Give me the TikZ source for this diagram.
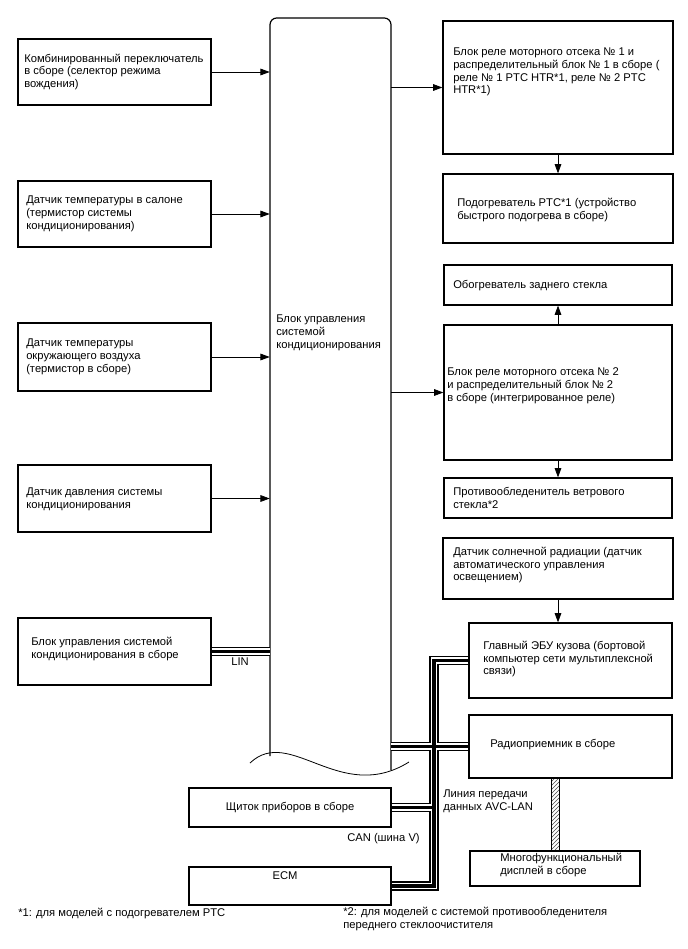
\documentclass[tikz,border=0pt]{standalone}
\usepackage{fontspec}
\setmainfont{Liberation Sans}
\usetikzlibrary{arrows.meta,fit,patterns,calc}
\begin{document}
\begin{tikzpicture}[x=0.75pt,y=-0.75pt,
  box/.style={draw, line width=0.9pt, inner sep=0pt},
  txt/.style={inner sep=0pt, align=left, font=\fontsize{8.4}{9.6}\selectfont, anchor=west},
  arr/.style={line width=0.6pt, -{Triangle[length=7pt,width=5pt]}},
  cable/.style={line width=2.6pt, preaction={draw, line width=6.8pt, black}, preaction={draw, line width=4.9pt, white}},
]
\useasboundingbox (0,0) rectangle (688,949);

% central block
\node[inner sep=0pt, fit={(270,18) (391,770)}] (cb) {};
\draw[line width=0.9pt, rounded corners=5pt] (270,756) |- (391,18) -- (391,770);
\draw[line width=0.6pt] (250,763) .. controls (290,725) and (340,805) .. (409,762);
\node[txt] (tc) at (276,333) {Блок управления\\системой\\кондиционирования};

% left boxes
\node[box, fit={(18,39) (211,105)}] (b1) {};
\node[txt] (t1) at (24,72) {Комбинированный переключатель\\в сборе (селектор режима\\вождения)};
\node[box, fit={(18,181) (211,247)}] (b2) {};
\node[txt] (t2) at (26,214) {Датчик температуры в салоне\\(термистор системы\\кондиционирования)};
\node[box, fit={(18,323) (211,391)}] (b3) {};
\node[txt] (t3) at (26,357) {Датчик температуры\\окружающего воздуха\\(термистор в сборе)};
\node[box, fit={(18,465) (211,532)}] (b4) {};
\node[txt] (t4) at (26,499) {Датчик давления системы\\кондиционирования};
\node[box, fit={(18,618) (211,685)}] (b5) {};
\node[txt] (t5) at (31,649) {Блок управления системой\\кондиционирования в сборе};

% right boxes
\node[box, fit={(443,21) (673,154)}] (r1) {};
\node[txt] (tr1) at (453,72) {Блок реле моторного отсека № 1 и\\распределительный блок № 1 в сборе (\\реле № 1 PTC HTR*1, реле № 2 PTC\\HTR*1)};
\node[box, fit={(443,174) (673,243)}] (r2) {};
\node[txt] (tr2) at (457,210) {Подогреватель PTC*1 (устройство\\быстрого подогрева в сборе)};
\node[box, fit={(444,265) (672,305)}] (r3) {};
\node[txt] (tr3) at (453,286) {Обогреватель заднего стекла};
\node[box, fit={(444,325) (672,460)}] (r4) {};
\node[txt] (tr4) at (447,386) {Блок реле моторного отсека № 2\\и распределительный блок № 2\\в сборе (интегрированное реле)};
\node[box, fit={(444,478) (672,518)}] (r5) {};
\node[txt] (tr5) at (453,498) {Противообледенитель ветрового\\стекла*2};
\node[box, fit={(443,538) (673,599)}] (r6) {};
\node[txt] (tr6) at (453,565) {Датчик солнечной радиации (датчик\\автоматического управления\\освещением)};
\node[box, fit={(469,623) (672,698)}] (r7) {};
\node[txt] (tr7) at (483,659) {Главный ЭБУ кузова (бортовой\\компьютер сети мультиплексной\\связи)};
\node[box, fit={(469,715) (672,778)}] (r8) {};
\node[txt] (tr8) at (490,745) {Радиоприемник в сборе};
\node[box, fit={(470,851) (640,886)}] (r9) {};
\node[txt] (tr9) at (500,865) {Многофункциональный\\дисплей в сборе};

% bottom left boxes
\node[box, fit={(189,788) (391,827)}] (ic) {};
\node[txt, anchor=center] (tic) at (290,808) {Щиток приборов в сборе};
\node[box, fit={(189,867) (391,905)}] (ecm) {};
\node[txt, anchor=center] (tecm) at (285,876) {ECM};

% labels
\node[txt, anchor=center] (tlin) at (240,662) {LIN};
\node[txt] (tcan) at (347,839) {CAN (шина V)};
\node[txt] (tavc) at (443,801) {Линия передачи\\данных AVC-LAN};
\node[txt] (fn1) at (18,913) {*1: для моделей с подогревателем PTC};
\node[txt] (fn2) at (343,919) {*2: для моделей с системой противообледенителя\\переднего стеклоочистителя};

% arrows
\draw[arr] (b1.east) -- (b1.east -| cb.west);
\draw[arr] (b2.east) -- (b2.east -| cb.west);
\draw[arr] (b3.east) -- (b3.east -| cb.west);
\draw[arr] (b4.east) -- (b4.east -| cb.west);
\draw[arr] (cb.east |- r1.west) -- (r1.west);
\draw[arr] (cb.east |- r4.west) -- (r4.west);
\draw[arr] (r1.south) -- (r2.north);
\draw[arr] (r4.north) -- (r3.south);
\draw[arr] (r4.south) -- (r5.north);
\draw[arr] (r6.south) -- (r6.south |- r7.north);

% cables
\coordinate (jx) at (434,0);
\draw[cable] (b5.east) -- (b5.east -| cb.west);
\draw[cable] (r7.west) -- (r7.west -| jx) |- (ecm.east)
  (cb.east |- r8.west) -- (r8.west)
  (ic.east) -- (ic.east -| jx);

% hatched link
\draw[line width=0.6pt, pattern=north east lines, pattern color=black!70] ($(r9.north)+(-4,0)$) rectangle ($(r8.south -| r9.north)+(4,0)$);
\end{tikzpicture}
\end{document}
